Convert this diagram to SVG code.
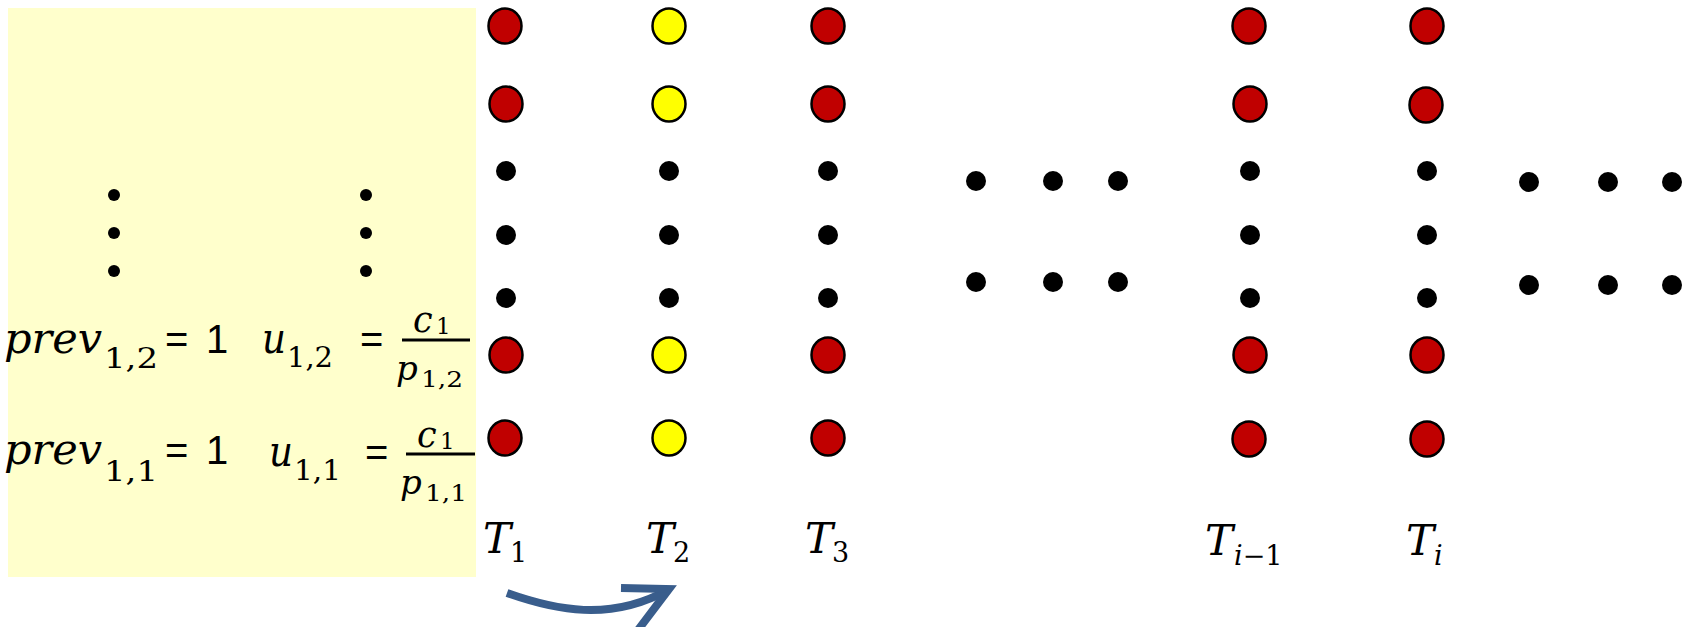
<svg xmlns="http://www.w3.org/2000/svg" width="1684" height="627" viewBox="0 0 1684 627">
  <style>
    .red { fill: #C00000; stroke: #000; stroke-width: 2.5; }
    .yel { fill: #FFFF00; stroke: #000; stroke-width: 2.5; }
    .dot { fill: #000; }
    .mi { font-family: "DejaVu Serif", serif; font-style: italic; fill: #000; }
    .mn { font-family: "DejaVu Serif", serif; fill: #000; }
    .op { font-family: "Liberation Sans", Arial, sans-serif; fill: #000; }
    .bar { stroke: #000; stroke-width: 3; }
  </style>
  <defs>
    <ellipse id="node" cx="0" cy="0" rx="16.5" ry="17.5"/>
  </defs>

  <!-- initial panel -->
  <g id="panel">
    <rect x="8" y="8" width="468" height="569" fill="#FFFFCC"/>
    <g class="dot">
      <circle cx="114" cy="195" r="6"/>
      <circle cx="114" cy="233" r="6"/>
      <circle cx="114" cy="271" r="6"/>
      <circle cx="366" cy="195" r="6"/>
      <circle cx="366" cy="233" r="6"/>
      <circle cx="366" cy="271" r="6"/>
    </g>
    <!-- row 1,2 -->
    <text class="mi" x="4" y="353" font-size="43" textLength="98" lengthAdjust="spacingAndGlyphs">prev</text>
    <text class="mn" x="104" y="368" font-size="28" textLength="54" lengthAdjust="spacingAndGlyphs">1,2</text>
    <text class="op" x="165" y="353" font-size="40">=</text>
    <text class="op" x="206" y="353" font-size="40">1</text>
    <text class="mi" x="262" y="353" font-size="43" textLength="24" lengthAdjust="spacingAndGlyphs">u</text>
    <text class="mn" x="287" y="367" font-size="28" textLength="46" lengthAdjust="spacingAndGlyphs">1,2</text>
    <text class="op" x="360" y="353" font-size="40">=</text>
    <line class="bar" x1="402" y1="340" x2="470" y2="340"/>
    <text class="mi" x="413" y="332" font-size="35">c</text>
    <text class="mn" x="436" y="334" font-size="23">1</text>
    <text class="mi" x="396" y="380" font-size="34">p</text>
    <text class="mn" x="421" y="387" font-size="23" textLength="42" lengthAdjust="spacingAndGlyphs">1,2</text>
    <!-- row 1,1 -->
    <text class="mi" x="4" y="464" font-size="43" textLength="98" lengthAdjust="spacingAndGlyphs">prev</text>
    <text class="mn" x="104" y="481" font-size="28" textLength="54" lengthAdjust="spacingAndGlyphs">1,1</text>
    <text class="op" x="165" y="464" font-size="40">=</text>
    <text class="op" x="206" y="464" font-size="40">1</text>
    <text class="mi" x="269" y="466" font-size="43" textLength="24" lengthAdjust="spacingAndGlyphs">u</text>
    <text class="mn" x="294" y="480" font-size="28" textLength="47" lengthAdjust="spacingAndGlyphs">1,1</text>
    <text class="op" x="365" y="466" font-size="40">=</text>
    <line class="bar" x1="406" y1="454" x2="475" y2="454"/>
    <text class="mi" x="417" y="447" font-size="35">c</text>
    <text class="mn" x="440" y="449" font-size="23">1</text>
    <text class="mi" x="400" y="494" font-size="34">p</text>
    <text class="mn" x="425" y="501" font-size="23" textLength="42" lengthAdjust="spacingAndGlyphs">1,1</text>
  </g>

  <!-- column T1 -->
  <g id="col-t1">
    <use href="#node" class="red" x="505" y="26"/>
    <use href="#node" class="red" x="506" y="104"/>
    <circle class="dot" cx="506" cy="171" r="10"/>
    <circle class="dot" cx="506" cy="235" r="10"/>
    <circle class="dot" cx="506" cy="298" r="10"/>
    <use href="#node" class="red" x="506" y="355"/>
    <use href="#node" class="red" x="505" y="438"/>
    <text class="mi" x="483" y="553" font-size="42">T</text>
    <text class="mn" x="510" y="562" font-size="27">1</text>
  </g>

  <!-- column T2 -->
  <g id="col-t2">
    <use href="#node" class="yel" x="669" y="26"/>
    <use href="#node" class="yel" x="669" y="104"/>
    <circle class="dot" cx="669" cy="171" r="10"/>
    <circle class="dot" cx="669" cy="235" r="10"/>
    <circle class="dot" cx="669" cy="298" r="10"/>
    <use href="#node" class="yel" x="669" y="355"/>
    <use href="#node" class="yel" x="669" y="438"/>
    <text class="mi" x="646" y="553" font-size="42">T</text>
    <text class="mn" x="673" y="562" font-size="27">2</text>
  </g>

  <!-- column T3 -->
  <g id="col-t3">
    <use href="#node" class="red" x="828" y="26"/>
    <use href="#node" class="red" x="828" y="104"/>
    <circle class="dot" cx="828" cy="171" r="10"/>
    <circle class="dot" cx="828" cy="235" r="10"/>
    <circle class="dot" cx="828" cy="298" r="10"/>
    <use href="#node" class="red" x="828" y="355"/>
    <use href="#node" class="red" x="828" y="438"/>
    <text class="mi" x="805" y="553" font-size="42">T</text>
    <text class="mn" x="832" y="562" font-size="27">3</text>
  </g>

  <!-- ellipsis between T3 and T(i-1) -->
  <g id="gap-left" class="dot">
    <circle cx="976" cy="181" r="10"/>
    <circle cx="1053" cy="181" r="10"/>
    <circle cx="1118" cy="181" r="10"/>
    <circle cx="976" cy="282" r="10"/>
    <circle cx="1053" cy="282" r="10"/>
    <circle cx="1118" cy="282" r="10"/>
  </g>

  <!-- column T(i-1) -->
  <g id="col-ti-1">
    <use href="#node" class="red" x="1249" y="26"/>
    <use href="#node" class="red" x="1250" y="104"/>
    <circle class="dot" cx="1250" cy="171" r="10"/>
    <circle class="dot" cx="1250" cy="235" r="10"/>
    <circle class="dot" cx="1250" cy="298" r="10"/>
    <use href="#node" class="red" x="1250" y="355"/>
    <use href="#node" class="red" x="1249" y="439"/>
    <text class="mi" x="1205" y="555" font-size="42">T</text>
    <text x="1234" y="565" font-size="27"><tspan class="mi">i</tspan><tspan class="mn">−1</tspan></text>
  </g>

  <!-- column Ti -->
  <g id="col-ti">
    <use href="#node" class="red" x="1427" y="26"/>
    <use href="#node" class="red" x="1426" y="105"/>
    <circle class="dot" cx="1427" cy="171" r="10"/>
    <circle class="dot" cx="1427" cy="235" r="10"/>
    <circle class="dot" cx="1427" cy="298" r="10"/>
    <use href="#node" class="red" x="1427" y="355"/>
    <use href="#node" class="red" x="1427" y="439"/>
    <text class="mi" x="1406" y="555" font-size="42">T</text>
    <text class="mi" x="1434" y="565" font-size="27">i</text>
  </g>

  <!-- ellipsis after Ti -->
  <g id="gap-right" class="dot">
    <circle cx="1529" cy="182" r="10"/>
    <circle cx="1608" cy="182" r="10"/>
    <circle cx="1672" cy="182" r="10"/>
    <circle cx="1529" cy="285" r="10"/>
    <circle cx="1608" cy="285" r="10"/>
    <circle cx="1672" cy="285" r="10"/>
  </g>

  <!-- step arrow T1 to T2 -->
  <g id="connectors" fill="none" stroke="#395D8C" stroke-width="8">
    <path d="M507,593 C555,610 610,622 668,590"/>
    <path d="M621,588 L669,589 L638,630" stroke-linejoin="miter"/>
  </g>
</svg>
